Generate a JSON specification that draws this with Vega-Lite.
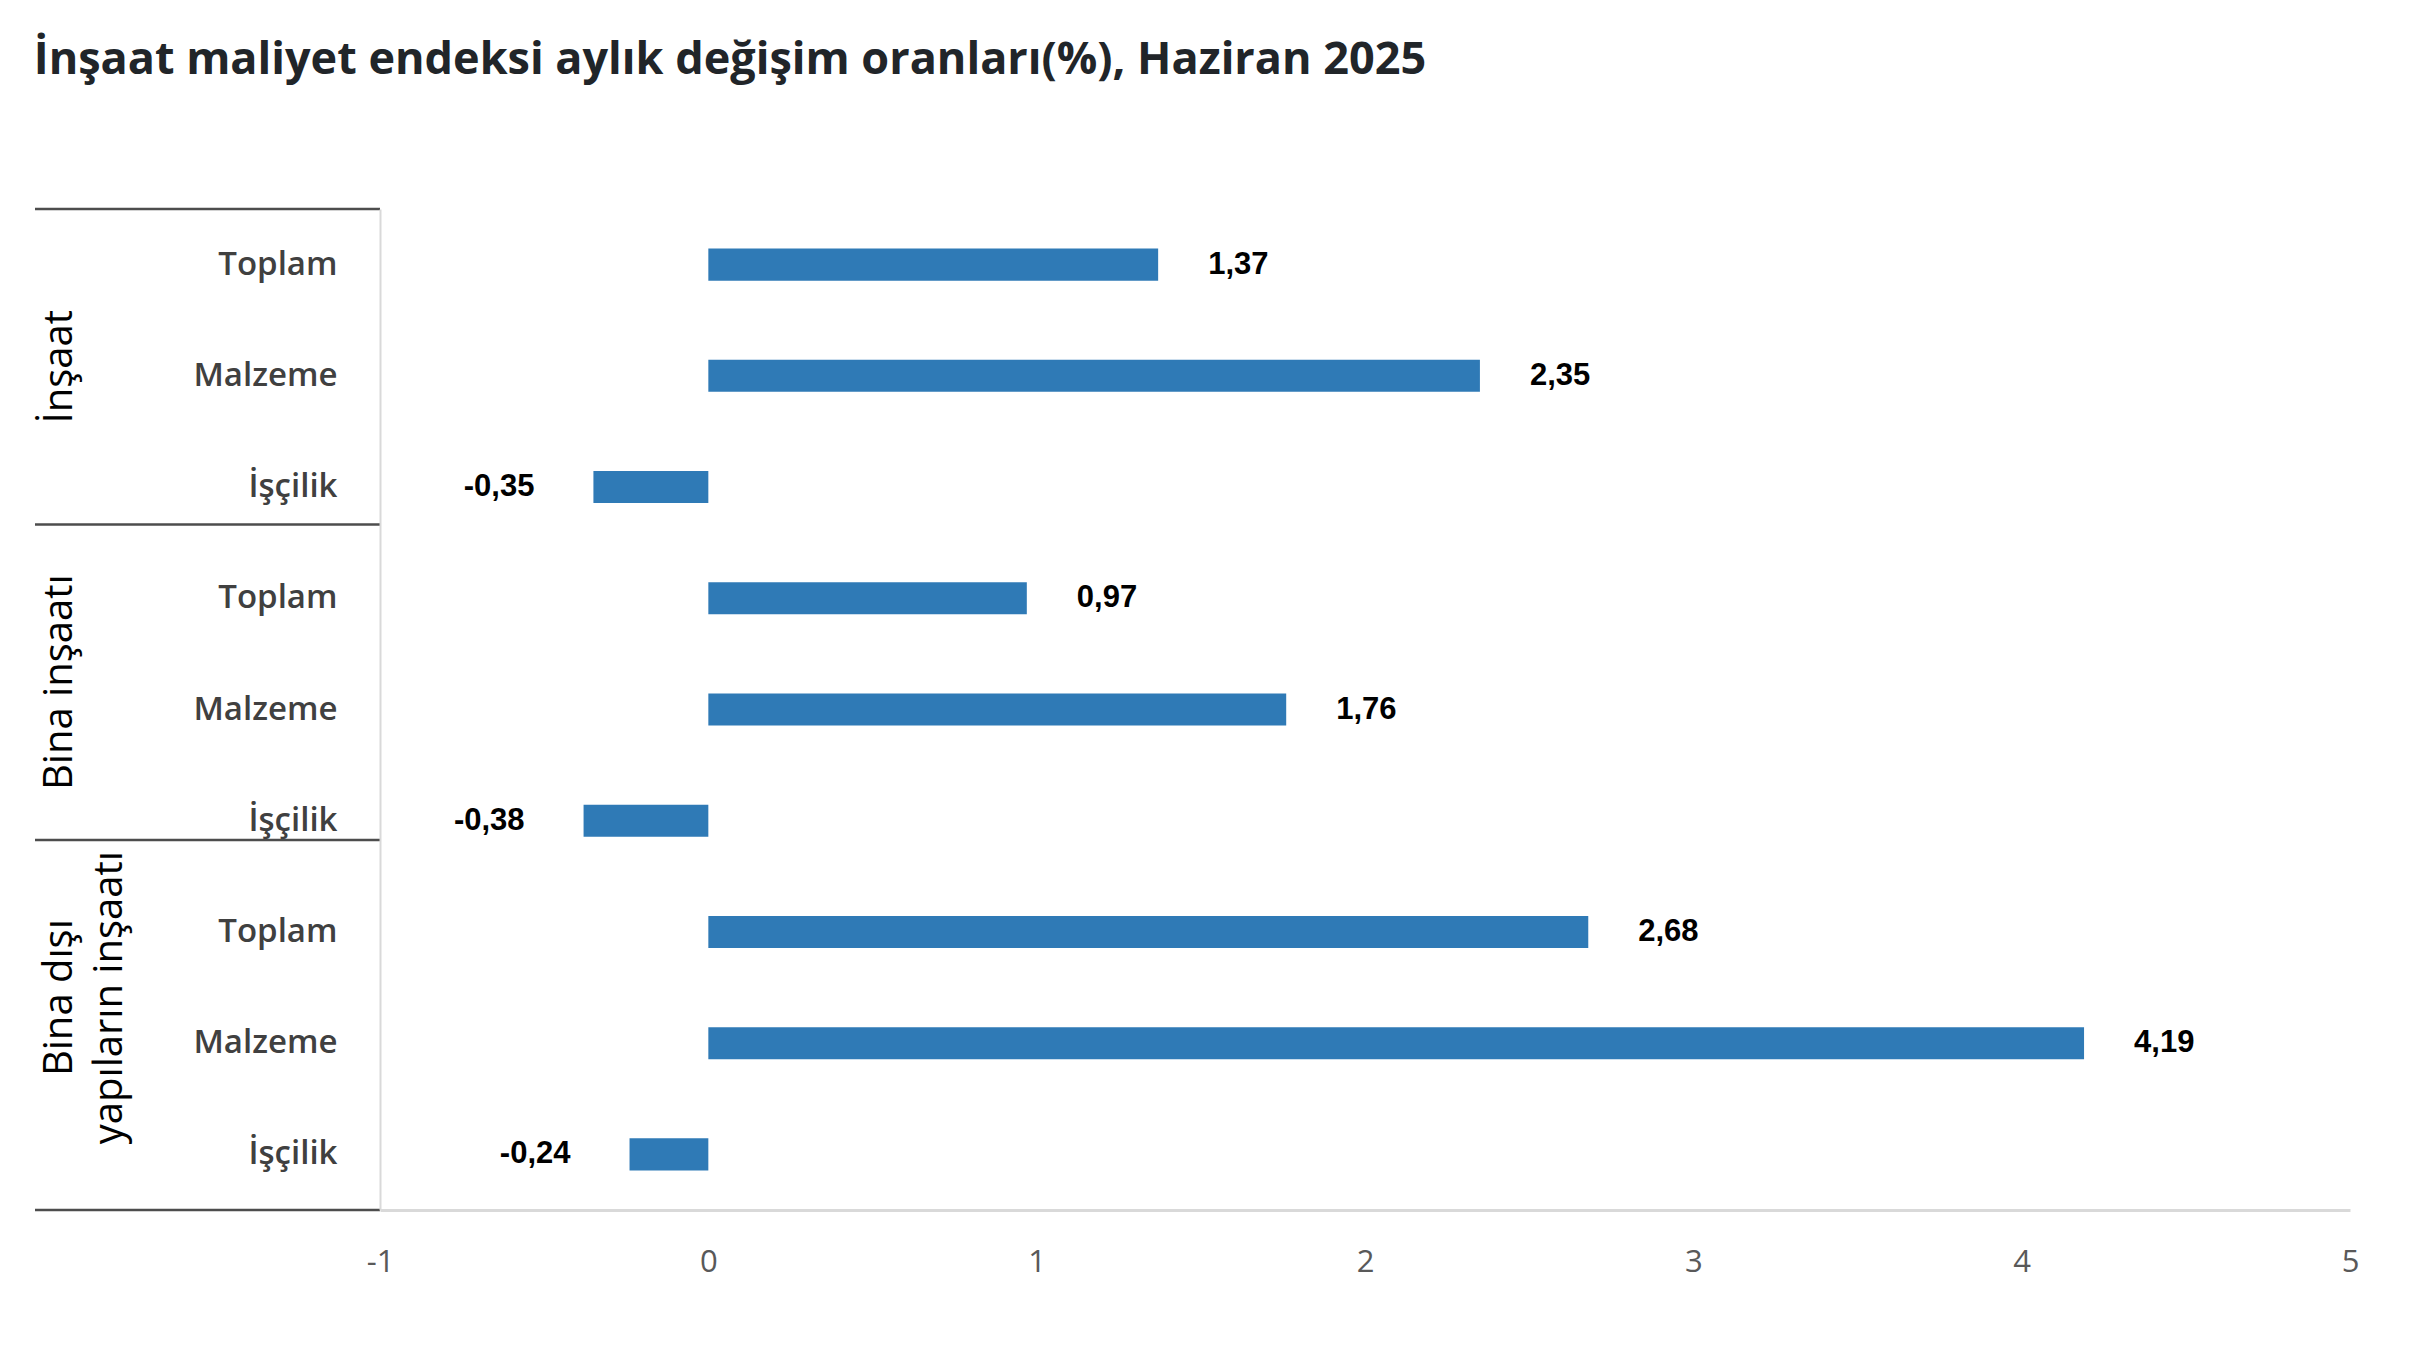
{
  "$schema": "https://vega.github.io/schema/vega-lite/v6.json",
  "background": "white",
  "padding": {"left": 33, "top": 37, "right": 10, "bottom": 90},
  "title": {
    "text": "İnşaat maliyet endeksi aylık değişim oranları(%), Haziran 2025",
    "anchor": "start",
    "font": "Open Sans",
    "fontSize": 45,
    "fontWeight": "bold",
    "color": "#212529",
    "offset": 125
  },
  "data": {
    "values": [
      {"grup": "İnşaat", "kalem": "Toplam", "satir": "İnşaat / Toplam", "deger": 1.37},
      {"grup": "İnşaat", "kalem": "Malzeme", "satir": "İnşaat / Malzeme", "deger": 2.35},
      {"grup": "İnşaat", "kalem": "İşçilik", "satir": "İnşaat / İşçilik", "deger": -0.35},
      {"grup": "Bina inşaatı", "kalem": "Toplam", "satir": "Bina inşaatı / Toplam", "deger": 0.97},
      {"grup": "Bina inşaatı", "kalem": "Malzeme", "satir": "Bina inşaatı / Malzeme", "deger": 1.76},
      {"grup": "Bina inşaatı", "kalem": "İşçilik", "satir": "Bina inşaatı / İşçilik", "deger": -0.38},
      {"grup": "Bina dışı yapıların inşaatı", "kalem": "Toplam", "satir": "Bina dışı yapıların inşaatı / Toplam", "deger": 2.68},
      {"grup": "Bina dışı yapıların inşaatı", "kalem": "Malzeme", "satir": "Bina dışı yapıların inşaatı / Malzeme", "deger": 4.19},
      {"grup": "Bina dışı yapıların inşaatı", "kalem": "İşçilik", "satir": "Bina dışı yapıların inşaatı / İşçilik", "deger": -0.24}
    ]
  },
  "bounds": "flush",
  "spacing": 0,
  "hconcat": [
    {
      "width": 345,
      "height": 1001,
      "encoding": {
        "y": {
          "field": "grup",
          "type": "nominal",
          "sort": null,
          "title": null,
          "scale": {"paddingInner": 0, "paddingOuter": 0.0865, "align": 0},
          "axis": {
            "orient": "left",
            "domain": false,
            "ticks": false,
            "grid": false,
            "labelAngle": -90,
            "labelAlign": "center",
            "labelBaseline": "top",
            "labelPadding": -4,
            "labelFont": "Open Sans",
            "labelFontSize": 40,
            "labelColor": "#000000",
            "labelLineHeight": 50,
            "labelLimit": 0,
            "labelExpr": "datum.label == 'Bina dışı yapıların inşaatı' ? ['Bina dışı', 'yapıların inşaatı'] : datum.label"
          }
        }
      },
      "layer": [
        {
          "transform": [{"filter": "datum.kalem == 'Toplam'"}],
          "mark": {"type": "rule", "color": "#4d4d4d", "strokeWidth": 2.5},
          "encoding": {
            "y": {"field": "grup", "type": "nominal", "sort": null, "bandPosition": 0}
          }
        },
        {
          "transform": [{"filter": "datum.satir == 'Bina dışı yapıların inşaatı / İşçilik'"}],
          "mark": {"type": "rule", "color": "#4d4d4d", "strokeWidth": 2.5},
          "encoding": {
            "y": {"value": "height"}
          }
        }
      ]
    },
    {
      "width": 1970,
      "height": 1001,
      "encoding": {
        "y": {
          "field": "satir",
          "type": "nominal",
          "sort": null,
          "title": null,
          "scale": {"paddingInner": 0, "paddingOuter": 0},
          "axis": {
            "domainColor": "#d9d9d9",
            "domainWidth": 2,
            "ticks": false,
            "labelPadding": 43,
            "labelFont": "Open Sans",
            "labelFontSize": 33,
            "labelFontWeight": 600,
            "labelColor": "#404040",
            "labelExpr": "split(datum.label, ' / ')[1]"
          }
        },
        "x": {
          "field": "deger",
          "type": "quantitative",
          "title": null,
          "scale": {"domain": [-1, 5], "nice": false, "zero": false},
          "axis": {
            "values": [-1, 0, 1, 2, 3, 4, 5],
            "format": "d",
            "grid": false,
            "ticks": false,
            "domainColor": "#d9d9d9",
            "domainWidth": 3,
            "labelPadding": 37,
            "labelFont": "Open Sans",
            "labelFontSize": 31,
            "labelColor": "#595959",
            "labelFlush": false
          }
        }
      },
      "layer": [
        {
          "mark": {"type": "bar", "color": "#2f7ab6", "height": {"band": 0.288}}
        },
        {
          "transform": [{"filter": "datum.deger >= 0"}],
          "mark": {"type": "text", "align": "left", "baseline": "middle", "dx": 50, "font": "Liberation Sans", "fontSize": 31, "fontWeight": "bold", "color": "#000000"},
          "encoding": {
            "text": {"field": "deger", "type": "quantitative", "format": ".2f"}
          }
        },
        {
          "transform": [{"filter": "datum.deger < 0"}],
          "mark": {"type": "text", "align": "right", "baseline": "middle", "dx": -59, "font": "Liberation Sans", "fontSize": 31, "fontWeight": "bold", "color": "#000000"},
          "encoding": {
            "text": {"field": "deger", "type": "quantitative", "format": ".2f"}
          }
        }
      ]
    }
  ],
  "config": {
    "view": {"stroke": null},
    "locale": {
      "number": {"decimal": ",", "thousands": ".", "grouping": [3], "currency": ["", " TL"], "minus": "-"}
    }
  }
}
